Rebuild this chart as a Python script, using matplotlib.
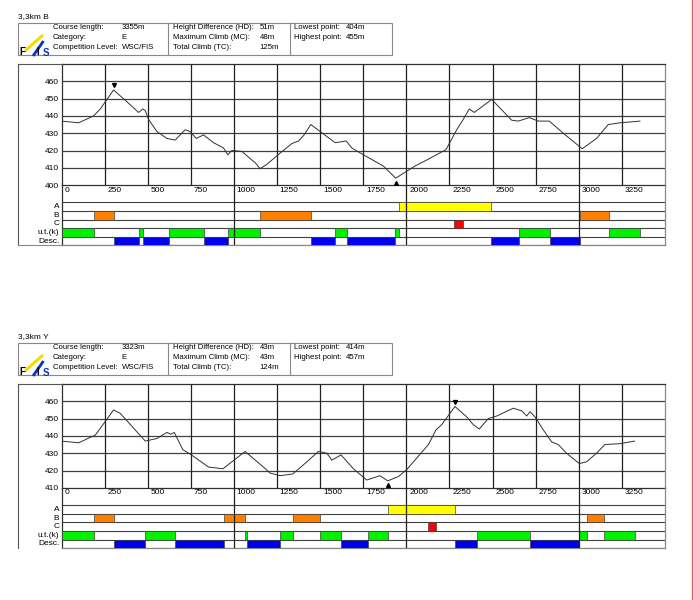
"""FIS course profiles for two 3,3 km courses (B and Y): elevation profile
plus climb/descent classification strips.

Writes ``out.png``.
"""

import matplotlib.pyplot as plt
from matplotlib.patches import Rectangle

plt.rcParams["font.family"] = ["Liberation Sans", "DejaVu Sans"]

W, H = 693, 600
FS = 6.0
HFS = 5.6  # header text

# ---- course B --------------------------------------------------------------
B_TITLE = "3,3km B"
B_INFO = ["3355m", "E", "WSC/FIS", "51m", "48m", "125m", "404m", "455m"]
B_DIST = [0, 99, 186, 225, 260, 302, 370, 447, 472, 486, 505, 553, 611, 659,
          717, 746, 781, 824, 882, 939, 965, 988, 1046, 1104, 1123, 1152,
          1191, 1268, 1336, 1374, 1403, 1446, 1500, 1587, 1651, 1683, 1751,
          1867, 1938, 2050, 2118, 2230, 2292, 2330, 2365, 2394, 2495, 2611,
          2649, 2713, 2765, 2829, 2910, 3020, 3103, 3171, 3238, 3355]
B_ELEV = [437, 436, 440, 444, 449, 455, 449, 442, 444, 443, 438, 431, 427,
          426, 432, 431, 427, 429, 424.5, 421.5, 417.5, 420, 419.5, 414.5,
          413, 409.5, 412, 418.5, 424, 425.5, 428.5, 435, 431, 424.5, 425.5,
          421.5, 417.5, 411, 404, 411, 414.5, 420.5, 432, 438, 444, 442,
          449.5, 437.5, 437, 439, 437, 437, 430, 421, 427, 435, 436, 437]
B_HIGH = (302, 455)
B_LOW = (1938, 404)
B_A = [(1957, 2490)]
B_B = [(190, 302), (1150, 1446), (3009, 3173)]
B_C = [(2277, 2330)]
B_UT = [(0, 190), (447, 472), (621, 829), (965, 1150), (1587, 1654),
        (1936, 1957), (2651, 2833), (3173, 3355)]
B_DESC = [(302, 447), (472, 621), (829, 965), (1446, 1587), (1654, 1936),
          (2490, 2651), (2833, 3009)]

# ---- course Y --------------------------------------------------------------
Y_TITLE = "3,3km Y"
Y_INFO = ["3323m", "E", "WSC/FIS", "43m", "43m", "124m", "414m", "457m"]
Y_DIST = [0, 99, 196, 244, 302, 341, 418, 486, 553, 611, 635, 654, 704, 746,
          853, 936, 1065, 1171, 1210, 1268, 1341, 1423, 1490, 1539, 1568,
          1621, 1693, 1770, 1847, 1892, 1954, 2002, 2128, 2172, 2205, 2282,
          2350, 2388, 2423, 2475, 2524, 2620, 2669, 2698, 2717, 2746, 2794,
          2843, 2881, 2929, 3003, 3045, 3103, 3151, 3238, 3323]
Y_ELEV = [437, 436, 440.5, 447, 455, 453, 444.5, 437, 438.5, 442, 441, 442,
          432, 429.5, 422, 421, 431, 422, 418.5, 417, 418, 425, 431, 430,
          426, 429, 421, 414.5, 417, 414, 416.5, 420.5, 435, 443.5, 446.5,
          457, 451, 446.5, 444, 450, 451.5, 456, 454.5, 451.5, 454, 451,
          443.5, 436.5, 435, 430, 424, 425, 430, 435, 435.5, 437]
Y_HIGH = (2282, 457)
Y_LOW = (1892, 414)
Y_A = [(1892, 2284)]
Y_B = [(189, 303), (941, 1062), (1340, 1497), (3049, 3147)]
Y_C = [(2123, 2173)]
Y_UT = [(0, 189), (484, 656), (1062, 1073), (1265, 1340), (1497, 1622),
        (1775, 1892), (2412, 2715), (3003, 3049), (3147, 3325)]
Y_DESC = [(303, 484), (656, 940), (1073, 1265), (1622, 1775), (2284, 2412),
          (2715, 3003)]

ROW_NAMES = ["A", "B", "C", "u.t.(k)", "Desc."]
ROW_COLORS = ["#ffff00", "#ff8000", "#ff0000", "#00f000", "#0000f0"]
X_TICKS = list(range(0, 3251, 250))
LABELS_1 = ["Course length:", "Category:", "Competition Level:"]
LABELS_2 = ["Height Difference (HD):", "Maximum Climb (MC):", "Total Climb (TC):"]
LABELS_3 = ["Lowest point:", "Highest point:"]

X_MAX = 3500
PX_PER_M = 1.73  # vertical pixels per metre of elevation
LEFT, RIGHT = 61.5, 665


def px_axes(fig, left, top, right, bottom, **kw):
    return fig.add_axes([left / W, 1 - bottom / H, (right - left) / W,
                         (bottom - top) / H], **kw)


def draw_course(fig, bg, off, title, info, dist, elev, ylo, high, low, rows):
    top = 64 + off
    ph = (470 - ylo) * PX_PER_M
    pb = top + ph
    strip = 17.3
    row_h = 8.6
    bb = pb + strip + 5 * row_h

    # header
    bg.text(18, 17 + off, title, fontsize=FS, va="center", ha="left")
    bg.add_patch(Rectangle((18, 23 + off), 374, 32, fill=False,
                           edgecolor="#888888", lw=0.8))
    for xv in (168, 290):
        bg.plot([xv, xv], [23 + off, 55 + off], color="#888888", lw=0.8)
    for i, lab in enumerate(LABELS_1):
        y = 27.5 + off + i * 9.8
        bg.text(53, y, lab, fontsize=HFS, va="center")
        bg.text(121.5, y, info[i], fontsize=HFS, va="center")
    for i, lab in enumerate(LABELS_2):
        y = 27.5 + off + i * 9.8
        bg.text(173, y, lab, fontsize=HFS, va="center")
        bg.text(259.5, y, info[3 + i], fontsize=HFS, va="center")
    for i, lab in enumerate(LABELS_3):
        y = 27.5 + off + i * 9.8
        bg.text(294, y, lab, fontsize=HFS, va="center")
        bg.text(346, y, info[6 + i], fontsize=HFS, va="center")
    # FIS logo
    bg.plot([25, 43], [51 + off, 35 + off], color="#f0e000", lw=2.2,
            solid_capstyle="butt")
    bg.plot([33, 43.5], [56 + off, 41 + off], color="#1030c0", lw=2.0,
            solid_capstyle="butt")
    bg.text(19, 52 + off, "F", fontsize=7.0, weight="bold", va="center")
    bg.text(36.5, 52 + off, "I", fontsize=7.0, weight="bold", va="center")
    bg.text(42.5, 53 + off, "S", fontsize=7.0, weight="bold", va="center",
            color="#1030c0")

    # outer frame on the left
    bg.plot([18, 18], [top, bb], color="#555555", lw=0.8)
    bg.plot([18, LEFT], [top, top], color="#555555", lw=0.8)
    if off == 0:
        bg.plot([18, LEFT], [bb, bb], color="#888888", lw=0.8)

    # profile
    ax = px_axes(fig, LEFT, top, RIGHT, pb)
    ax.set_xlim(0, X_MAX)
    ax.set_ylim(ylo, 470)
    for yv in range(ylo + 10, 470, 10):
        ax.axhline(yv, color="#404040", lw=0.9, zorder=1)
    for xv in X_TICKS[1:]:
        ax.axvline(xv, color="#202020", lw=0.9, zorder=1)
    ax.plot(dist, elev, color="#303030", lw=0.7, zorder=3)
    ax.plot([high[0]], [high[1] + 2.6], marker="v", ms=2.8, color="black",
            zorder=4)
    ax.plot([low[0]], [low[1] - 2.6], marker="^", ms=2.8, color="black",
            zorder=4)
    ax.set_yticks(range(ylo, 461, 10))
    ax.set_yticklabels([str(v) for v in range(ylo, 461, 10)], fontsize=FS)
    ax.set_xticks([])
    ax.tick_params(axis="y", length=0, pad=2)
    for xv in X_TICKS:
        ax.annotate(str(xv), xy=(xv, 0), xycoords=("data", "axes fraction"),
                    xytext=(2, -1.2), textcoords="offset points",
                    ha="left", va="top", fontsize=FS)
    for name, sp in ax.spines.items():
        sp.set_color("#888888" if name == "right" else "#303030")
        sp.set_linewidth(0.9)

    # classification strips (the axes also spans the label strip)
    bx = px_axes(fig, LEFT, pb, RIGHT, bb, facecolor="none")
    bx.set_xlim(0, X_MAX)
    bx.set_ylim(0, 5 + strip / row_h)
    for i, (segs, col) in enumerate(zip(rows, ROW_COLORS)):
        y0 = 4 - i
        bx.broken_barh([(s, e - s) for s, e in segs], (y0, 1),
                       facecolors=col, edgecolors="#404040", lw=0.5, zorder=3)
        bx.annotate(ROW_NAMES[i], xy=(0, y0 + 0.5),
                    xycoords=("axes fraction", "data"), xytext=(-1.5, 0),
                    textcoords="offset points", ha="right", va="center",
                    fontsize=FS)
    bx.hlines(range(0, 6), 0, X_MAX, color="#404040", lw=0.8, zorder=2)
    for km in (1000, 2000, 3000):
        bx.axvline(km, color="#202020", lw=0.9, zorder=4)
    bx.set_xticks([])
    bx.set_yticks([])
    bx.spines["top"].set_visible(False)
    bx.spines["bottom"].set_color("#888888")
    bx.spines["right"].set_color("#888888")
    bx.spines["left"].set_color("#303030")
    for sp in bx.spines.values():
        sp.set_linewidth(0.9)


def main() -> None:
    fig = plt.figure(figsize=(W / 100, H / 100), dpi=100)
    bg = fig.add_axes([0, 0, 1, 1], facecolor="none", zorder=10)
    bg.set_xlim(0, W)
    bg.set_ylim(H, 0)
    bg.axis("off")

    draw_course(fig, bg, 0, B_TITLE, B_INFO, B_DIST, B_ELEV, 400, B_HIGH,
                B_LOW, [B_A, B_B, B_C, B_UT, B_DESC])
    draw_course(fig, bg, 320, Y_TITLE, Y_INFO, Y_DIST, Y_ELEV, 410, Y_HIGH,
                Y_LOW, [Y_A, Y_B, Y_C, Y_UT, Y_DESC])

    bg.plot([692.3, 692.3], [0, H], color="#d06060", lw=1.0)
    fig.savefig("out.png", dpi=100)


if __name__ == "__main__":
    main()
